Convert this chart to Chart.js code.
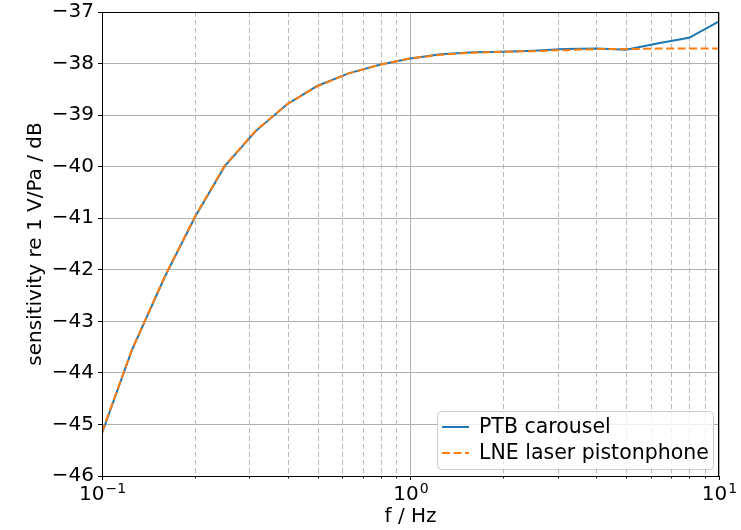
<!DOCTYPE html>
<html><head><meta charset="utf-8">
<script src="https://cdn.jsdelivr.net/npm/chart.js@4"></script>
<style>html,body{margin:0;padding:0;background:#fff}#wrap{width:741px;height:530px}</style>
</head><body><div id="wrap"><canvas id="c" width="741" height="530"></canvas></div>
<script>
const freqs = [0.1, 0.125, 0.16, 0.2, 0.25, 0.315, 0.4, 0.5, 0.63, 0.8, 1, 1.25, 1.6, 2, 2.5, 3.15, 4, 5, 6.3, 8, 10];
const ptbCarousel = [-45.17, -43.56, -42.13, -40.98, -39.99, -39.31, -38.78, -38.43, -38.19, -38.02, -37.90, -37.82, -37.78, -37.77, -37.75, -37.72, -37.71, -37.73, -37.61, -37.50, -37.18];
const lnePistonphone = [-45.15, -43.55, -42.12, -40.97, -39.98, -39.30, -38.78, -38.44, -38.19, -38.02, -37.90, -37.83, -37.79, -37.77, -37.76, -37.74, -37.72, -37.72, -37.71, -37.71, -37.71];
const seriesLabels = ['PTB carousel', 'LNE laser pistonphone'];
const xTickValues = [0.1,0.2,0.3,0.4,0.5,0.6,0.7,0.8,0.9,1,2,3,4,5,6,7,8,9,10];
const xMajorTicks = [0.1, 1, 10];
const xMajorExponents = ['\u22121', '0', '1'];
const yMin = -46, yMax = -37;

const FONT = "'DejaVu Sans', sans-serif";
const isMajor = v => Math.abs(Math.log10(v) - Math.round(Math.log10(v))) < 1e-9;

const extras = {
  id: 'extras',
  beforeDatasetsDraw(chart) {
    const {ctx, chartArea: a, scales: {x}} = chart;
    ctx.save();
    ctx.strokeStyle = '#b8b8b8';
    ctx.lineWidth = 1;
    ctx.setLineDash([5, 3]);
    xTickValues.filter(v => !isMajor(v)).forEach(v => {
      const px = Math.round(x.getPixelForValue(v)) + 0.5;
      ctx.beginPath(); ctx.moveTo(px, a.top); ctx.lineTo(px, a.bottom); ctx.stroke();
    });
    ctx.restore();
  },
  afterDraw(chart) {
    const {ctx, chartArea: a, scales: {x}} = chart;
    ctx.save();
    // frame
    ctx.strokeStyle = '#000'; ctx.lineWidth = 1;
    ctx.strokeRect(Math.round(a.left) + 0.5, Math.round(a.top) + 0.5, Math.round(a.right - a.left) - 1, Math.round(a.bottom - a.top));
    // minor ticks
    xTickValues.filter(v => !isMajor(v)).forEach(v => {
      const px = Math.round(x.getPixelForValue(v)) + 0.5;
      ctx.beginPath(); ctx.moveTo(px, a.bottom); ctx.lineTo(px, a.bottom + 2.5); ctx.stroke();
    });
    // x tick labels with superscript exponents
    ctx.fillStyle = '#000';
    ctx.textBaseline = 'alphabetic';
    xMajorTicks.forEach((v, i) => {
      const px = x.getPixelForValue(v);
      ctx.font = '20px ' + FONT;
      const wb = ctx.measureText('10').width;
      ctx.font = '14px ' + FONT;
      const we = ctx.measureText(xMajorExponents[i]).width;
      const left = px - (wb + we) / 2;
      ctx.font = '20px ' + FONT;
      ctx.fillText('10', left, a.bottom + 24);
      ctx.font = '14px ' + FONT;
      ctx.fillText(xMajorExponents[i], left + wb + 1, a.bottom + 17);
    });
    // legend
    const bx = 437, by = 411, bw = 276, bh = 58, r = 4;
    ctx.fillStyle = 'rgba(255,255,255,0.8)';
    ctx.strokeStyle = '#cccccc';
    ctx.lineWidth = 1;
    ctx.beginPath();
    ctx.roundRect(bx + 0.5, by + 0.5, bw, bh, r);
    ctx.fill(); ctx.stroke();
    const ds = chart.data.datasets;
    [0, 1].forEach(i => {
      const yy = by + 16 + i * 26;
      ctx.strokeStyle = ds[i].borderColor;
      ctx.lineWidth = 2;
      ctx.setLineDash(ds[i].borderDash || []);
      ctx.beginPath(); ctx.moveTo(bx + 5, yy); ctx.lineTo(bx + 32, yy); ctx.stroke();
      ctx.setLineDash([]);
      ctx.fillStyle = '#000';
      ctx.font = '20.5px ' + FONT;
      ctx.textBaseline = 'middle';
      ctx.fillText(ds[i].label, bx + 42, yy + 1);
    });
    ctx.restore();
  }
};

new Chart(document.getElementById('c'), {
  type: 'line',
  data: {
    datasets: [
      { label: seriesLabels[0], data: freqs.map((f, i) => ({x: f, y: ptbCarousel[i]})),
        borderColor: '#1f77b4', borderWidth: 2, pointRadius: 0, tension: 0, fill: false, order: 1 },
      { label: seriesLabels[1], data: freqs.map((f, i) => ({x: f, y: lnePistonphone[i]})),
        borderColor: '#ff7f0e', borderWidth: 2, borderDash: [8, 3.5], pointRadius: 0, tension: 0, fill: false, order: 0 }
    ]
  },
  options: {
    responsive: false, animation: false,
    layout: { padding: { left: 24, right: 22, top: 12, bottom: 0 } },
    plugins: { legend: { display: false }, tooltip: { enabled: false } },
    scales: {
      x: {
        type: 'logarithmic', min: 0.1, max: 10,
        afterBuildTicks: s => { s.ticks = xTickValues.map(v => ({value: v})); },
        afterFit: s => { s.height = 54; s.paddingLeft = 0; s.paddingRight = 0; },
        ticks: { autoSkip: false, maxRotation: 0, padding: 2, color: '#000', font: { family: FONT, size: 20 },
          callback: () => '' },
        grid: { color: c => (c.tick && isMajor(c.tick.value)) ? '#b0b0b0' : 'rgba(0,0,0,0)',
          tickColor: c => (c.tick && isMajor(c.tick.value)) ? '#000' : 'rgba(0,0,0,0)',
          tickLength: 4, lineWidth: 1 },
        border: { color: '#000', width: 1 },
        title: { display: true, text: 'f / Hz', color: '#000', font: { family: FONT, size: 20 }, padding: { top: 0, bottom: 1 } }
      },
      y: {
        min: yMin, max: yMax,
        afterFit: s => { s.width = 78; s.paddingTop = 0; s.paddingBottom = 0; },
        ticks: { stepSize: 1, padding: 4, color: '#000', font: { family: FONT, size: 20 },
          callback: v => String(v).replace('-', '\u2212') },
        grid: { color: '#b0b0b0', tickColor: '#000', tickLength: 4, lineWidth: 1 },
        border: { color: '#000', width: 1 },
        title: { display: true, text: 'sensitivity re 1 V/Pa / dB', color: '#000', font: { family: FONT, size: 20 }, padding: { top: 0, bottom: 0 } }
      }
    }
  },
  plugins: [extras]
});
</script></body></html>
